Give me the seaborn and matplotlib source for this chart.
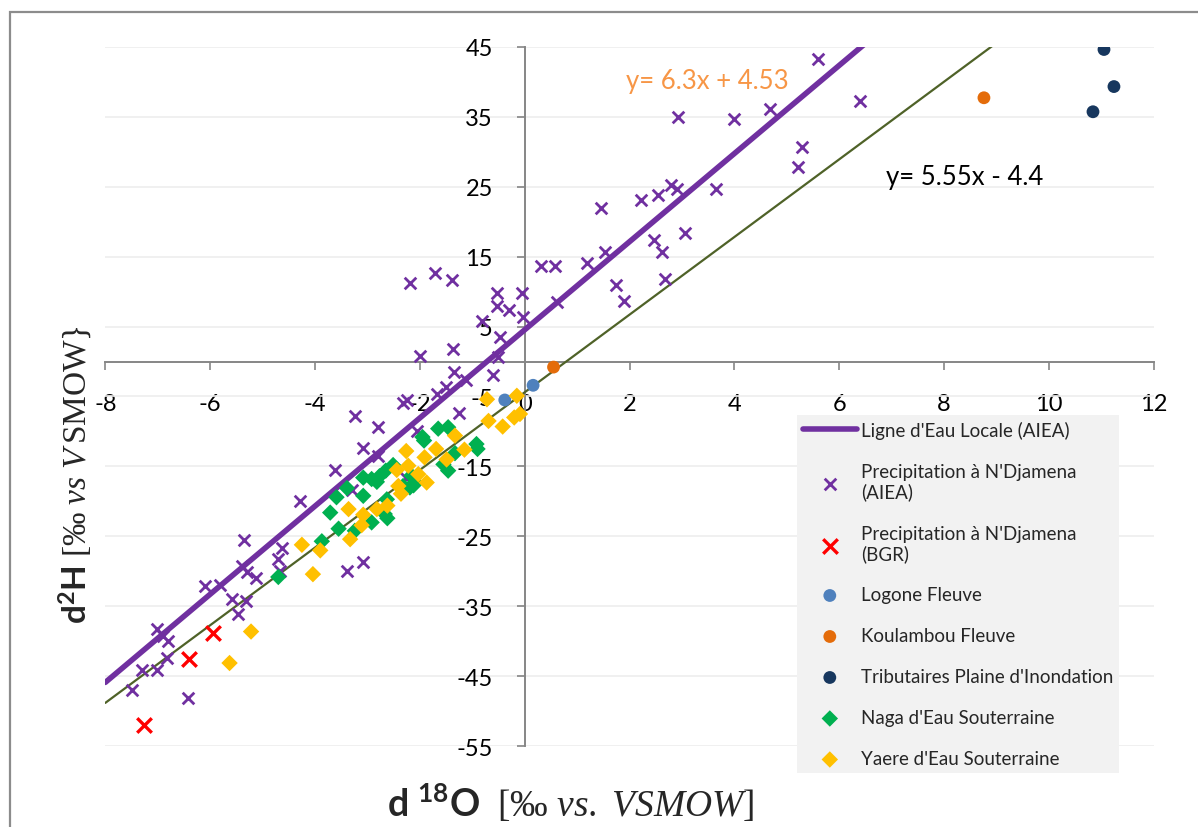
import numpy as np
import seaborn as sns
import matplotlib.pyplot as plt
from matplotlib.patches import Rectangle

# lignes de regression (pente, ordonnee a l'origine)
lmwl_slope, lmwl_icpt = 6.3, 4.53
evap_slope, evap_icpt = 5.55, -4.4

# Precipitation a N'Djamena (AIEA)
aiea_o18 = [5.60, 6.40, 4.68, 2.93, 4.00, 5.28, 5.22, 2.80, 2.90, 3.65, 2.55, 2.21, 1.45,
            3.06, 2.47, 2.62, 1.53, 1.18, 0.32, 0.58, 2.68, 1.74, 1.90, 0.61, -0.06, -0.03,
            -2.19, -1.72, -1.39, -0.53, -0.53, -0.30, -0.82, -0.47, -1.36, -2.00, -0.50,
            -1.34, -0.60, -1.12, -1.50, -1.68, -2.25, -2.33, -1.25, -2.79,
            -3.24, -3.09, -2.79, -3.62, -2.05, -2.26, -3.30, -3.09, -3.39,
            -4.28, -5.35, -4.62, -4.71, -4.66, -5.40, -5.30, -5.12, -6.09, -5.81, -5.59,
            -5.32, -5.46, -7.02, -6.89, -6.80, -6.83, -7.30, -7.02, -7.50, -6.42]
aiea_h2 = [43.2, 37.2, 36.1, 35.0, 34.7, 30.6, 27.8, 25.3, 24.7, 24.6, 23.8, 23.1, 22.0,
           18.4, 17.4, 15.6, 15.6, 14.1, 13.6, 13.6, 11.8, 11.0, 8.7, 8.5, 9.8, 6.4,
           11.2, 12.6, 11.7, 9.8, 8.0, 7.4, 5.8, 3.5, 1.8, 0.8, 0.6,
           -1.5, -1.9, -2.7, -3.7, -4.6, -5.5, -5.9, -7.3, -9.4,
           -7.8, -12.4, -13.5, -15.5, -9.9, -16.6, -18.3, -28.6, -29.9,
           -20.0, -25.5, -26.7, -28.3, -29.9, -29.3, -30.1, -30.9, -32.1, -31.9, -34.0,
           -34.2, -36.1, -38.2, -39.2, -40.0, -42.4, -44.1, -44.1, -47.0, -48.1]

# Precipitation a N'Djamena (BGR)
bgr_o18 = [-5.95, -6.40, -7.27]
bgr_h2 = [-38.8, -42.5, -52.0]

# eaux de surface
logone_o18 = [-0.38, 0.16]
logone_h2 = [-5.5, -3.4]
koul_o18 = [0.55, 8.76]
koul_h2 = [-0.8, 37.7]
trib_o18 = [11.05, 11.24, 10.84]
trib_h2 = [44.6, 39.3, 35.7]

# eaux souterraines
naga_o18 = [-1.65, -1.46, -1.95, -0.92, -1.92, -0.90, -1.33, -1.55, -1.46, -2.51, -2.65,
            -2.77, -2.92, -3.08, -2.82, -2.16, -2.09, -2.19, -2.32, -2.12, -3.39, -3.08,
            -3.59, -3.71, -2.63, -2.67, -2.62, -2.92, -3.55, -3.24, -3.87, -4.70]
naga_h2 = [-9.6, -9.4, -10.8, -11.8, -11.3, -12.5, -13.1, -14.7, -15.6, -14.8, -15.6,
           -16.4, -16.8, -16.6, -17.2, -16.3, -17.3, -18.0, -17.8, -17.7, -18.1, -19.2,
           -19.4, -21.6, -19.7, -21.8, -22.4, -23.0, -23.9, -24.2, -25.7, -30.8]
yaere_o18 = [-0.72, -0.15, -0.69, -0.42, -0.20, -0.09, -1.33, -1.15, -1.69, -2.26, -1.91,
             -1.49, -2.22, -2.44, -2.03, -1.87, -2.41, -2.36, -2.62, -2.82, -3.36, -3.08,
             -3.11, -3.33, -4.25, -3.90, -4.04, -5.22, -5.63]
yaere_h2 = [-5.4, -4.9, -8.5, -9.3, -8.0, -7.5, -10.6, -12.6, -12.5, -12.8, -13.7,
            -14.0, -14.9, -15.5, -16.1, -17.3, -17.8, -18.9, -20.6, -21.1, -21.1, -21.9,
            -23.4, -25.4, -26.2, -27.0, -30.4, -38.6, -43.1]

x_ticks = list(range(-8, 13, 2))
y_ticks = list(range(-55, 46, 10))

sns.set_theme(style="white")
plt.rcParams['font.family'] = ['Lato', 'DejaVu Sans']
plt.rcParams['axes.unicode_minus'] = False
# titres d'axes : partie en gras sans-serif, le reste en serif (comme l'original)
plt.rcParams['mathtext.fontset'] = 'custom'
plt.rcParams['mathtext.rm'] = 'Liberation Serif'
plt.rcParams['mathtext.it'] = 'Liberation Serif:italic'
plt.rcParams['mathtext.bf'] = 'Lato:bold'

fig = plt.figure(figsize=(11.98, 8.28), dpi=100)
ax = fig.add_axes([0.0879, 0.0975, 0.8752, 0.8449])

x_line = np.array([-8.0, 12.0])
sns.lineplot(x=x_line, y=lmwl_slope * x_line + lmwl_icpt, color='#7030A0', linewidth=4,
             label="Ligne d'Eau Locale (AIEA)", legend=False, ax=ax, zorder=3)
sns.lineplot(x=x_line, y=evap_slope * x_line + evap_icpt, color='#4F6228', linewidth=1.6,
             legend=False, ax=ax, zorder=3)

sns.scatterplot(x=aiea_o18, y=aiea_h2, marker='x', s=70, color='#7030A0', linewidth=2,
                label="Precipitation à N'Djamena\n(AIEA)", legend=False, ax=ax, zorder=4)
sns.scatterplot(x=bgr_o18, y=bgr_h2, marker='x', s=110, color='#FF0000', linewidth=2.4,
                label="Precipitation à N'Djamena\n(BGR)", legend=False, ax=ax, zorder=4)
sns.scatterplot(x=logone_o18, y=logone_h2, marker='o', s=85, color='#4F81BD', edgecolor='none',
                label="Logone Fleuve", legend=False, ax=ax, zorder=4)
sns.scatterplot(x=koul_o18, y=koul_h2, marker='o', s=85, color='#E46C0A', edgecolor='none',
                label="Koulambou Fleuve", legend=False, ax=ax, zorder=4)
sns.scatterplot(x=trib_o18, y=trib_h2, marker='o', s=85, color='#17375E', edgecolor='none',
                label="Tributaires Plaine d'Inondation", legend=False, ax=ax, zorder=4)
sns.scatterplot(x=naga_o18, y=naga_h2, marker='D', s=70, color='#00B050', edgecolor='none',
                label="Naga d'Eau Souterraine", legend=False, ax=ax, zorder=4)
sns.scatterplot(x=yaere_o18, y=yaere_h2, marker='D', s=70, color='#FFC000', edgecolor='none',
                label="Yaere d'Eau Souterraine", legend=False, ax=ax, zorder=4)

ax.set_xlim(-8, 12)
ax.set_ylim(-55, 45)
ax.set_xticks(x_ticks)
ax.set_yticks(y_ticks)
ax.set_xlabel('')
ax.set_ylabel('')

# axes qui se croisent a l'origine
ax.spines['left'].set_position(('data', 0))
ax.spines['bottom'].set_position(('data', 0))
ax.spines['top'].set_visible(False)
ax.spines['right'].set_visible(False)
for sp in ['left', 'bottom']:
    ax.spines[sp].set_color('#868686')
    ax.spines[sp].set_linewidth(1.4)
ax.tick_params(axis='both', direction='out', length=6, width=1.2, color='#868686',
               labelsize=17, labelcolor='black', pad=17)
ax.tick_params(axis='x', bottom=True)
ax.tick_params(axis='y', left=True)
ax.yaxis.grid(True, color='#EDEDED', linewidth=1.2)
ax.xaxis.grid(False)
ax.set_axisbelow(True)

ax.text(1.93, 40.2, "y= 6.3x + 4.53", color='#F79646', fontsize=18.5, va='center', ha='left')
ax.text(6.89, 26.4, "y= 5.55x - 4.4", color='black', fontsize=18.5, va='center', ha='left')

leg = ax.legend(loc='upper left', bbox_to_anchor=(0.6597, 0.4736), fontsize=13.5,
                frameon=True, fancybox=False, facecolor='#F2F2F2', edgecolor='none',
                framealpha=1, labelspacing=1.28, handlelength=2.9, handletextpad=0.2,
                borderpad=0.3, borderaxespad=0)
leg.set_zorder(10)

fig.text(0.4766, 0.031, r"$\mathbf{d\ ^{18}O}\ \ \mathrm{[‰}\ vs.\ VSMOW\mathrm{]}$",
         fontsize=27, ha='center', va='center')
fig.text(0.063, 0.4275, r"$\mathbf{d^{2}H}\ \mathrm{[‰}\ vs\ V\,\mathrm{SMOW\}}$",
         fontsize=24, rotation=90, ha='center', va='center')

# cadre gris autour de la figure
fig.add_artist(Rectangle((10 / 1198, -0.05), 1.1, 1 - 12.5 / 828 + 0.05,
                         transform=fig.transFigure, fill=False, edgecolor='#8C8C8C',
                         linewidth=1.6, clip_on=False))

fig.savefig('out.png', dpi=100)
